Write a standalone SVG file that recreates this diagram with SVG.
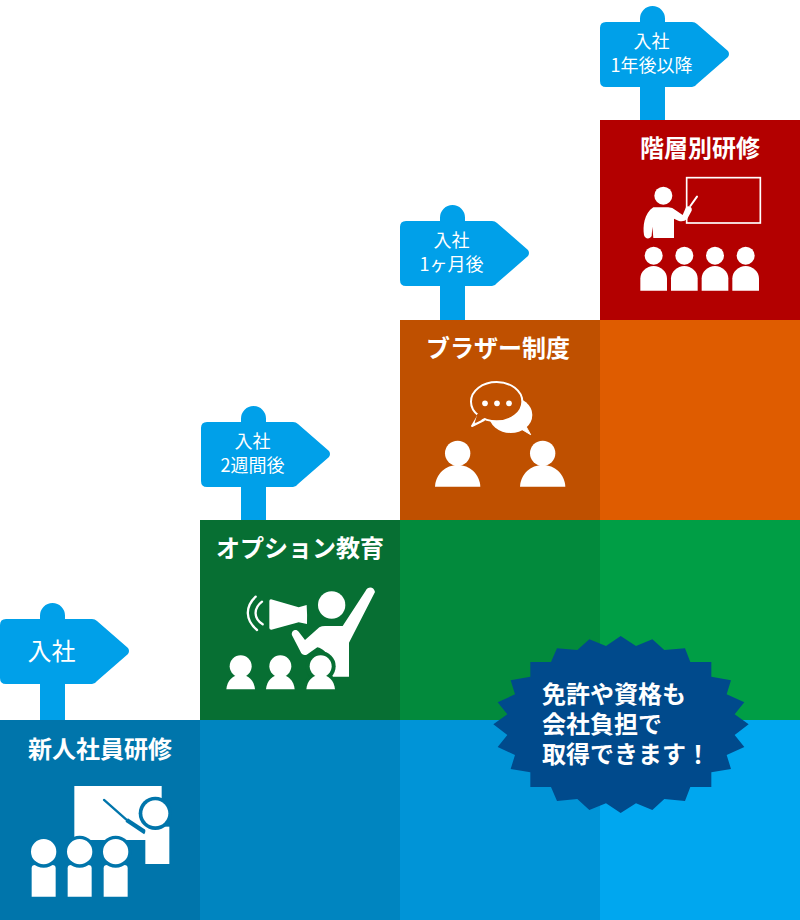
<svg xmlns="http://www.w3.org/2000/svg" width="800" height="920" viewBox="0 0 800 920">
<style>
text{font-family:"Noto Sans CJK JP","Noto Sans",sans-serif;fill:#fff;text-anchor:middle}
.t{font-size:24px;font-weight:700}
.s{font-size:18px}
.w{fill:#fff}
.sign{fill:#00a0e9}
</style>
<defs>
<path id="sign" d="M40 628V624.500A12.500 12.500 0 0 1 65 624.500V628H92Q95 628 97 630L128 657Q130 660 128 663L97 690Q95 693 92 693H65V729H40V693H6Q0 693 0 687V634Q0 628 6 628H40Z" transform="translate(0,-9)"/>
<path id="dome" d="M-43 35C-41 8-22-9 0-9S41 8 43 35Z"/>
<path id="dome2" d="M-68 50C-66 12-36-15 0-15S66 12 68 50Z"/>
</defs>
<g id="sign-1">
<use href="#sign" class="sign"/>
<text x="51.500" y="660" font-size="24">入社</text>
</g>
<g id="sign-2">
<use href="#sign" class="sign" transform="translate(201,-197)"/>
<text x="252.500" y="448" class="s">入社</text>
<text x="252.500" y="472" class="s">2週間後</text>
</g>
<g id="sign-3">
<use href="#sign" class="sign" transform="translate(400,-398)"/>
<text x="451.500" y="247" class="s">入社</text>
<text x="451.500" y="271" class="s">1ヶ月後</text>
</g>
<g id="sign-4">
<use href="#sign" class="sign" transform="translate(600,-597)"/>
<text x="651.500" y="48" class="s">入社</text>
<text x="651.500" y="72" class="s">1年後以降</text>
</g>
<g id="background">
<rect x="0" y="720" width="200" height="200" fill="#0075ab"/>
<rect x="200" y="720" width="200" height="200" fill="#0085c0"/>
<rect x="400" y="720" width="200" height="200" fill="#0094d7"/>
<rect x="600" y="720" width="200" height="200" fill="#00a7ef"/>
<rect x="200" y="520" width="200" height="200" fill="#076f33"/>
<rect x="400" y="520" width="200" height="200" fill="#028a3c"/>
<rect x="600" y="520" width="200" height="200" fill="#009e45"/>
<rect x="400" y="320" width="200" height="200" fill="#bf5000"/>
<rect x="600" y="320" width="200" height="200" fill="#df5c00"/>
<rect x="600" y="120" width="200" height="200" fill="#b30000"/>
</g>
<g id="connectors"></g>
<g id="step-1">
<text x="100" y="758" class="t">新人社員研修</text>
<g transform="translate(0,600) scale(.33333)">
<rect x="223" y="558" width="262" height="162" class="w"/>
<path d="M312 600L380 660" stroke="#0075ab" stroke-width="7" stroke-linecap="round" fill="none"/>
<path d="M380 660L436 697" stroke="#0075ab" stroke-width="13" fill="none"/>
<rect x="436" y="680" width="72" height="112" class="w"/>
<circle cx="466" cy="640" r="50" fill="#0075ab"/>
<circle cx="466" cy="640" r="39" class="w"/>
<g id="students-1">
<path d="M95 890V805Q95 795 105 795H157Q167 795 167 805V890Z" class="w"/>
<path d="M203 890V805Q203 795 213 795H265Q275 795 275 805V890Z" class="w"/>
<path d="M311 890V805Q311 795 321 795H373Q383 795 383 805V890Z" class="w"/>
<circle cx="131" cy="755" r="48" fill="#0075ab"/><circle cx="131" cy="755" r="38" class="w"/>
<circle cx="239" cy="755" r="48" fill="#0075ab"/><circle cx="239" cy="755" r="38" class="w"/>
<circle cx="347" cy="755" r="48" fill="#0075ab"/><circle cx="347" cy="755" r="38" class="w"/>
</g>
</g>
</g>
<g id="step-2">
<text x="300" y="557" class="t">オプション教育</text>
<g transform="translate(200,400) scale(.33333)">
<path d="M213 598L296 622L320 615Q322 645 321 672L296 667L214 689Q208 689 208 684V603Q208 598 213 598Z" class="w"/>
<path d="M167 590C135 620 135 660 171 690M186 605C160 625 160 655 188 673" fill="none" stroke="#fff" stroke-width="7" stroke-linecap="round"/>
<circle cx="395" cy="615" r="41" class="w"/>
<path d="M497 572C503 560 521 558 525 576L447 728V830H395C398 790 385 750 352 742L320 764Q310 768 304 760L276 706C272 692 288 684 296 695L315 720L358 682Q365 678 375 678H428Z" class="w"/>
<circle cx="362" cy="799" r="45" fill="#076f33"/>
<path d="M310 870C310 830 340 812 362 812S412 830 414 870Z" fill="#076f33"/>
<g transform="translate(122,833)"><use href="#dome" class="w"/><circle cy="-34" r="33" class="w"/></g>
<g transform="translate(241,833)"><use href="#dome" class="w"/><circle cy="-34" r="33" class="w"/></g>
<g transform="translate(362,833)"><use href="#dome" class="w"/><circle cy="-34" r="33" class="w"/></g>
</g>
</g>
<g id="step-3">
<text x="498" y="357" class="t">ブラザー制度</text>
<g transform="translate(400,200) scale(.33333)">
<ellipse cx="332" cy="645" rx="65" ry="54" class="w"/>
<path d="M360 685L392 704L374 672Z" class="w" stroke="#fff" stroke-width="3" stroke-linejoin="round"/>
<path d="M234 648L216 678L252 660Z" fill="#bf5000" stroke="#fff" stroke-width="6" stroke-linejoin="round"/>
<ellipse cx="290" cy="605" rx="77" ry="59" fill="#bf5000" stroke="#fff" stroke-width="6"/>
<path d="M232 642L224 668L254 654L262 640Z" fill="#bf5000"/>
<circle cx="255" cy="610" r="8.500" class="w"/><circle cx="291" cy="610" r="8.500" class="w"/><circle cx="327" cy="610" r="8.500" class="w"/>
<g transform="translate(173,810)"><use href="#dome2" class="w"/><circle cy="-50" r="38" class="w"/></g>
<g transform="translate(428,810)"><use href="#dome2" class="w"/><circle cy="-50" r="38" class="w"/></g>
</g>
</g>
<g id="step-4">
<text x="700" y="157" class="t">階層別研修</text>
<g transform="translate(600,0) scale(.33333)">
<rect x="260" y="533" width="221" height="136" fill="none" stroke="#fff" stroke-width="5"/>
<path d="M271 618L291 590" stroke="#fff" stroke-width="6" stroke-linecap="round"/>
<circle cx="190" cy="587" r="27" class="w"/>
<path d="M160 622H205Q218 622 226 630L248 645L258 622C265 615 278 620 275 632L262 656Q250 668 235 662L222 656V714H160L157 680L155 708C150 718 135 718 132 705C128 680 132 640 160 622Z" class="w"/>
<g id="students-4">
<circle cx="161" cy="767" r="27" class="w"/><circle cx="253" cy="767" r="27" class="w"/><circle cx="345" cy="767" r="27" class="w"/><circle cx="437" cy="767" r="27" class="w"/>
<path d="M121 872V835C121 815 140 798 161 798S201 815 201 835V872Z" class="w"/>
<path d="M213 872V835C213 815 232 798 253 798S293 815 293 835V872Z" class="w"/>
<path d="M305 872V835C305 815 324 798 345 798S385 815 385 835V872Z" class="w"/>
<path d="M397 872V835C397 815 416 798 437 798S477 815 477 835V872Z" class="w"/>
</g>
</g>
</g>
<g id="burst">
<polygon transform="translate(480,625) scale(.33333)" fill="#004a8c" points="422,33 468,63 517,43 553,75 615,70 631,111 694,111 694,155 753,166 740,208 793,232 764,268 806,298 764,330 793,366 740,390 753,432 694,442 694,486 631,486 615,528 553,522 517,555 468,535 422,564 378,535 328,555 292,522 231,528 213,486 151,486 151,442 92,432 105,390 53,366 82,330 40,298 82,268 53,232 105,208 92,166 151,155 151,111 213,111 231,70 292,75 328,43 378,63"/>
<text font-weight="700" font-size="24" style="text-anchor:start"><tspan x="542" y="703">免許や資格も</tspan><tspan x="542" y="733">会社負担で</tspan><tspan x="542" y="763">取得できます！</tspan></text>
</g>
</svg>
